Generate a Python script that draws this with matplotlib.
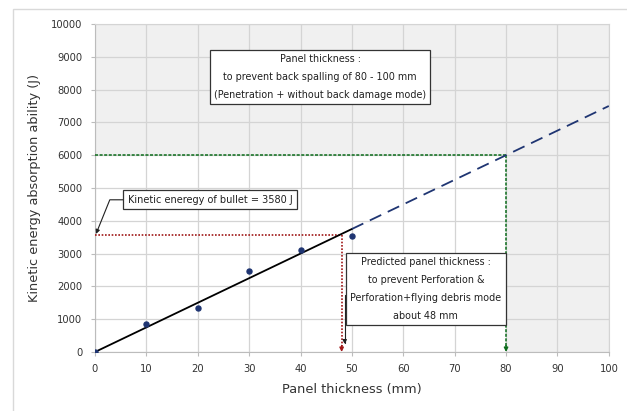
import matplotlib.pyplot as plt
from matplotlib.patches import Rectangle

thickness = [0, 10, 20, 30, 40, 50]
energy = [0, 850, 1350, 2470, 3120, 3550]

fit_solid_x = [0, 50]
fit_dash_x = [50, 100]
slope = 75.0

bullet_energy = 3580
pred_thickness = 48
spall_energy = 6000
spall_thickness = 80

navy = "#1f3572"
red = "#a01818"
green = "#0b6b1a"

plt.rcParams["font.family"] = "DejaVu Sans"

fig = plt.figure(figsize=(6.27, 4.11), dpi=100)
ax = fig.add_axes([0.1515, 0.1436, 0.8195, 0.798])

# outer chart border (top and left visible)
fig.patches.append(Rectangle((13 / 627, -0.1), 1.2, 1 - 9 / 411 + 0.1,
                             transform=fig.transFigure, fill=False,
                             edgecolor="#d9d9d9", linewidth=1.0))

ax.set_facecolor("#f0f0f0")
ax.add_patch(Rectangle((0, 0), spall_thickness, spall_energy,
                       facecolor="white", edgecolor="none", zorder=0.2))

ax.set_xlim(0, 100)
ax.set_ylim(0, 10000)
ax.set_xticks(range(0, 101, 10))
ax.set_yticks(range(0, 10001, 1000))
ax.set_axisbelow(True)
ax.grid(True, color="#d4d4d4", linewidth=0.9)
for s in ax.spines.values():
    s.set_color("#d4d4d4")
ax.spines["bottom"].set_color("#bcbcbc")
ax.spines["left"].set_color("#bcbcbc")
ax.tick_params(labelsize=7.2, colors="#333333", length=3, pad=6)
ax.tick_params(axis="both", color="#bcbcbc")

ax.set_xlabel("Panel thickness (mm)", fontsize=9.3, color="#333333", labelpad=6)
ax.set_ylabel("Kinetic energy absorption ability (J)", fontsize=9.3,
              color="#333333", labelpad=7)

# reference lines
ax.plot([0, spall_thickness], [spall_energy, spall_energy], color=green,
        linestyle=(0, (2, 1)), linewidth=1.1, zorder=3)
ax.plot([spall_thickness, spall_thickness], [spall_energy, 80], color=green,
        linestyle=(0, (2, 1)), linewidth=1.1, zorder=3)
ax.annotate("", xy=(spall_thickness, 0), xytext=(spall_thickness, 200),
            arrowprops=dict(arrowstyle="-|>", color=green, lw=1,
                            mutation_scale=6, shrinkA=0, shrinkB=0), zorder=4)

ax.plot([0, pred_thickness], [bullet_energy, bullet_energy], color=red,
        linestyle=(0, (1, 1)), linewidth=1.2, zorder=3)
ax.plot([pred_thickness, pred_thickness], [bullet_energy, 80], color=red,
        linestyle=(0, (1, 1)), linewidth=1.2, zorder=3)
ax.annotate("", xy=(pred_thickness, 0), xytext=(pred_thickness, 200),
            arrowprops=dict(arrowstyle="-|>", color=red, lw=1,
                            mutation_scale=6, shrinkA=0, shrinkB=0), zorder=4)

# fitted line
ax.plot(fit_solid_x, [slope * x for x in fit_solid_x], color="black",
        linewidth=1.3, zorder=4)
ax.plot(fit_dash_x, [slope * x for x in fit_dash_x], color=navy,
        linewidth=1.3, linestyle=(0, (7, 4)), zorder=4)

# data points
ax.plot(thickness, energy, "o", color=navy, markersize=3.6, zorder=5)

box = dict(boxstyle="square,pad=0.45", facecolor="white", edgecolor="#333333",
           linewidth=0.9)

ax.text(43.8, 8380,
        "Panel thickness :\nto prevent back spalling of 80 - 100 mm\n"
        "(Penetration + without back damage mode)",
        ha="center", va="center", fontsize=6.9, linespacing=2.0,
        color="#202020", bbox=box, zorder=6)

ax.annotate("Kinetic eneregy of bullet = 3580 J", xy=(0.2, bullet_energy + 20),
            xytext=(22.4, 4640), ha="center", va="center", fontsize=7,
            color="#202020", bbox=box, zorder=6,
            arrowprops=dict(arrowstyle="-|>", color="#202020", lw=0.8,
                            mutation_scale=6, shrinkA=0, shrinkB=0,
                            connectionstyle="angle,angleA=180,angleB=68,rad=0"))

ax.annotate("Predicted panel thickness :\nto prevent Perforation &\n"
            "Perforation+flying debris mode\nabout 48 mm",
            xy=(48.6, 240), xytext=(64.4, 1920), ha="center", va="center",
            fontsize=6.9, linespacing=2.0, color="#202020", bbox=box, zorder=6,
            arrowprops=dict(arrowstyle="-|>", color="#202020", lw=0.8,
                            mutation_scale=6, shrinkA=0, shrinkB=0, relpos=(0, 0.4),
                            connectionstyle="angle,angleA=180,angleB=90,rad=0"))

fig.savefig("out.png", dpi=100)
